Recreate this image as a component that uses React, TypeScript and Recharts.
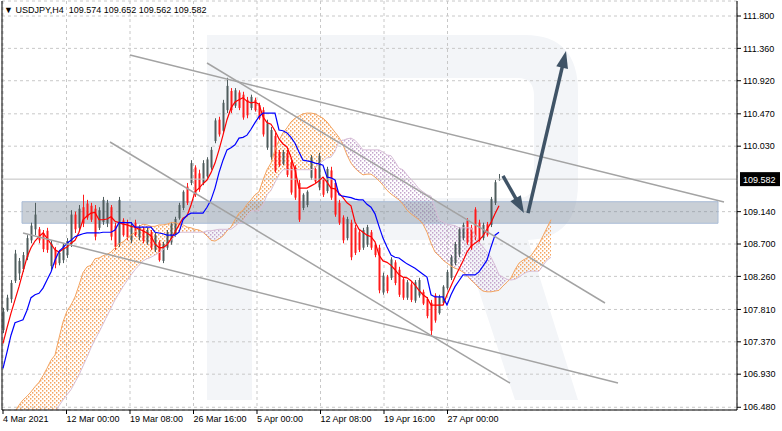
import React from 'react'
import {
  ComposedChart, XAxis, YAxis, CartesianGrid, Bar, Line, Area,
  ReferenceLine, ReferenceArea,
} from 'recharts'

// USDJPY H4 — one slot is two H4 bars (4px at this zoom)
const opens = [107.53,107.80,107.95,108.20,108.30,108.36,108.52,108.75,108.90,108.90,
  108.85,108.88,108.40,108.62,108.44,108.48,108.55,108.70,109.10,108.92,
  109.20,109.25,109.22,109.18,108.92,109.00,108.98,109.20,108.95,108.70,
  109.02,108.99,108.75,108.99,108.79,108.90,108.72,108.86,108.62,108.72,
  108.47,108.65,108.72,108.83,109.05,109.19,109.48,109.53,109.74,109.66,
  109.53,109.62,109.74,110.10,110.39,110.24,110.52,110.78,110.58,110.76,
  110.73,110.66,110.55,110.66,110.59,110.52,110.01,109.88,110.17,109.95,
  109.79,109.94,109.80,109.74,109.53,109.19,109.23,109.60,109.72,109.47,
  109.58,109.42,109.70,109.53,109.26,109.06,108.78,108.99,108.92,108.86,
  108.65,108.69,108.86,108.69,108.65,108.04,108.25,108.24,108.45,108.35,
  108.22,107.97,108.15,107.93,108.00,108.05,107.95,107.90,108.00,107.76,
  107.90,108.10,108.24,108.44,108.56,108.78,109.02,108.92,109.17,108.99,
  108.78,108.97,108.96,109.26,109.574]
const highs = [107.83,108.01,108.21,108.62,108.51,108.59,108.82,108.99,109.26,108.93,
  108.89,108.92,108.75,108.66,108.62,108.71,108.78,109.16,109.14,109.23,
  109.37,109.30,109.26,109.23,109.20,109.34,109.30,109.23,108.99,109.34,
  109.05,109.03,109.00,109.03,108.96,108.93,108.92,108.89,108.85,108.75,
  108.73,108.89,109.00,109.07,109.26,109.43,109.53,109.84,109.77,109.71,
  109.84,109.88,110.02,110.41,110.43,110.66,110.96,110.82,110.82,110.79,
  110.77,110.70,110.73,110.69,110.62,110.56,110.39,110.29,110.21,109.98,
  109.98,109.98,109.84,109.77,109.57,109.39,109.43,109.91,109.75,109.94,
  109.61,109.75,109.75,109.57,109.30,109.09,109.07,109.03,108.96,108.89,
  108.92,108.96,108.89,108.71,108.69,108.31,108.28,108.52,108.48,108.39,
  108.25,108.21,108.18,108.21,108.24,108.08,107.98,107.94,108.03,108.01,
  108.14,108.35,108.55,108.73,108.93,108.99,109.05,108.96,109.20,109.03,
  108.99,109.00,109.34,109.57,109.652]
const lows = [107.49,107.78,107.90,108.17,108.21,108.32,108.48,108.71,108.82,108.71,
  108.59,108.58,108.35,108.37,108.41,108.44,108.51,108.66,108.85,108.89,
  108.93,109.03,109.00,108.75,108.89,108.96,108.93,108.75,108.62,108.66,
  108.80,108.75,108.71,108.80,108.75,108.71,108.69,108.62,108.59,108.46,
  108.44,108.62,108.69,108.80,109.03,109.16,109.23,109.50,109.34,109.41,
  109.50,109.60,109.71,110.07,110.16,110.21,110.48,110.48,110.55,110.52,
  110.39,110.41,110.52,110.50,110.39,110.16,109.98,109.84,109.67,109.75,
  109.77,109.61,109.37,109.30,109.00,109.16,109.20,109.57,109.53,109.43,
  109.34,109.39,109.30,109.07,108.96,108.71,108.75,108.48,108.55,108.59,
  108.62,108.66,108.62,108.52,108.03,108.01,108.03,108.21,108.14,107.98,
  107.94,107.94,107.91,107.90,107.97,107.87,107.69,107.46,107.63,107.74,
  107.87,108.08,108.21,108.41,108.52,108.75,108.69,108.62,108.75,108.71,
  108.75,108.80,108.93,109.23,109.562]
const closes = [107.78,107.97,108.17,108.57,108.47,108.55,108.78,108.95,109.10,108.75,
  108.63,108.62,108.70,108.42,108.58,108.68,108.74,109.10,108.90,109.18,
  108.98,109.06,109.03,108.80,109.16,109.30,109.26,108.80,108.66,109.30,
  108.82,108.79,108.96,108.82,108.93,108.74,108.89,108.65,108.82,108.48,
  108.70,108.86,108.97,109.04,109.23,109.41,109.26,109.80,109.38,109.44,
  109.80,109.85,109.98,110.38,110.19,110.62,110.85,110.52,110.79,110.55,
  110.42,110.45,110.70,110.52,110.41,110.19,110.34,110.25,109.70,109.77,
  109.95,109.64,109.40,109.33,109.03,109.37,109.41,109.88,109.55,109.90,
  109.37,109.72,109.33,109.10,108.99,108.75,109.04,108.52,108.58,108.62,
  108.89,108.93,108.65,108.55,108.07,108.27,108.06,108.49,108.17,108.01,
  107.97,108.18,107.94,108.18,108.21,107.89,107.72,107.52,107.66,107.98,
  108.12,108.32,108.52,108.70,108.90,108.96,108.72,108.65,108.79,108.75,
  108.96,108.82,109.31,109.54,109.582]

const tenkan = [107.35,107.56,107.76,107.94,108.12,108.32,108.52,108.65,108.74,108.80,
  108.85,108.78,108.70,108.62,108.59,108.63,108.66,108.71,108.75,108.86,
  109.03,109.08,109.12,109.13,109.03,109.03,109.04,109.07,109.01,108.99,
  108.97,108.96,108.94,108.93,108.90,108.88,108.85,108.81,108.70,108.65,
  108.65,108.69,108.77,108.86,108.96,109.05,109.08,109.23,109.41,109.46,
  109.52,109.57,109.67,109.80,109.98,110.18,110.39,110.55,110.63,110.66,
  110.69,110.64,110.62,110.63,110.60,110.43,110.35,110.33,110.24,110.13,
  110.06,110.02,109.88,109.71,109.46,109.46,109.46,109.49,109.52,109.56,
  109.61,109.54,109.46,109.45,109.39,109.33,109.26,109.22,109.00,108.90,
  108.86,108.82,108.80,108.73,108.55,108.47,108.45,108.41,108.35,108.28,
  108.25,108.24,108.20,108.14,108.07,108.01,107.97,107.87,107.87,107.87,
  107.87,108.01,108.13,108.25,108.36,108.47,108.59,108.67,108.71,108.75,
  108.81,108.90,108.99,109.11,109.22]
const kijun = [107.01,107.23,107.46,107.63,107.65,107.67,107.80,107.97,108.01,108.03,
  108.10,108.21,108.32,108.48,108.60,108.65,108.71,108.75,108.80,108.82,
  108.84,108.85,108.85,108.85,108.85,108.86,108.86,108.86,108.89,108.99,
  108.99,108.99,108.99,108.93,108.93,108.93,108.93,108.93,108.86,108.85,
  108.84,108.82,108.82,108.82,108.86,109.03,109.09,109.12,109.12,109.12,
  109.12,109.20,109.30,109.46,109.67,109.84,109.98,110.01,110.05,110.14,
  110.15,110.18,110.26,110.35,110.43,110.48,110.48,110.48,110.48,110.25,
  110.24,110.21,110.15,110.07,109.95,109.84,109.83,109.82,109.80,109.79,
  109.77,109.61,109.60,109.57,109.37,109.35,109.34,109.33,109.31,109.30,
  109.30,109.24,109.20,109.11,108.94,108.78,108.66,108.55,108.52,108.51,
  108.47,108.43,108.40,108.37,108.33,108.29,108.25,108.01,107.98,107.98,
  107.98,107.87,108.01,108.12,108.20,108.28,108.28,108.28,108.28,108.32,
  108.40,108.48,108.66,108.82,108.86]

// senkou spans, shifted 13 slots past the last bar
const spanA = [106.04,106.17,106.31,106.42,106.51,106.58,106.63,106.69,106.76,106.82,
  106.91,107.01,107.12,107.19,107.42,107.64,107.79,107.87,107.98,108.14,
  108.31,108.39,108.41,108.50,108.51,108.54,108.56,108.59,108.65,108.70,
  108.73,108.78,108.82,108.86,108.94,108.97,108.96,108.94,108.94,108.96,
  108.96,108.97,108.99,108.99,108.97,108.96,108.93,108.92,108.90,108.89,
  108.86,108.81,108.75,108.74,108.77,108.81,108.88,108.93,109.03,109.12,
  109.16,109.24,109.30,109.37,109.41,109.57,109.71,109.80,109.98,110.11,
  110.21,110.28,110.36,110.41,110.44,110.47,110.48,110.48,110.47,110.44,
  110.41,110.36,110.29,110.22,110.15,110.05,109.91,109.80,109.73,109.68,
  109.64,109.65,109.65,109.61,109.56,109.50,109.43,109.38,109.34,109.30,
  109.24,109.16,109.11,109.07,109.03,108.97,108.86,108.71,108.59,108.54,
  108.48,108.44,108.40,108.37,108.35,108.32,108.27,108.21,108.16,108.10,
  108.06,108.05,108.05,108.06,108.07,108.13,108.18,108.24,108.35,108.44,
  108.48,108.51,108.54,108.62,108.70,108.81,108.92,109.03]
const spanB = [105.63,105.70,105.76,105.83,105.90,105.97,106.04,106.09,106.14,106.18,
  106.23,106.27,106.32,106.39,106.50,106.58,106.65,106.72,106.82,106.92,
  107.04,107.16,107.29,107.40,107.50,107.61,107.72,107.83,107.94,108.03,
  108.12,108.20,108.28,108.35,108.41,108.47,108.50,108.52,108.55,108.58,
  108.62,108.69,108.75,108.81,108.86,108.86,108.86,108.86,108.86,108.86,
  108.86,108.88,108.88,108.89,108.90,108.90,108.90,108.90,108.94,108.99,
  109.00,109.09,109.15,109.15,109.15,109.23,109.37,109.43,109.54,109.64,
  109.71,109.71,109.71,109.71,109.71,109.71,109.71,109.71,109.73,109.79,
  109.83,109.87,109.88,109.96,110.10,110.11,110.13,110.14,110.11,110.05,
  109.98,109.98,109.98,109.98,109.98,109.95,109.91,109.90,109.82,109.73,
  109.71,109.64,109.58,109.52,109.45,109.41,109.37,109.35,109.19,109.03,
  109.00,108.97,108.96,108.95,108.92,108.92,108.92,108.92,108.82,108.73,
  108.66,108.59,108.52,108.41,108.28,108.25,108.22,108.21,108.22,108.25,
  108.29,108.32,108.33,108.33,108.33,108.41,108.48,108.52]

const xTickLabels = ['4 Mar 2021', '12 Mar 00:00', '19 Mar 08:00', '26 Mar 16:00',
  '5 Apr 00:00', '12 Apr 08:00', '19 Apr 16:00', '27 Apr 00:00']
const yTickLabels = ['111.800', '111.360', '110.920', '110.470', '110.030', '109.140',
  '108.700', '108.260', '107.810', '107.370', '106.930', '106.480']
const lastPrice = 109.582
const header = 'USDJPY,H4  109.574 109.652 109.562 109.582'

// drawn objects, in [slot, price] pairs
const zone = { x1: 4.75, x2: 178.75, y1: 108.982, y2: 109.275 }
const trendLines = [
  [31.75, 111.27, 180.25, 109.271],
  [51, 111.161, 150.5, 107.898],
  [26.75, 110.087, 126.75, 106.81],
  [5, 108.85, 153.75, 106.81],
]
const arrows = [
  [125, 109.625, 130.25, 109.122],
  [131.25, 109.12, 140.75, 111.324],
]

const TICK_STEP = 15.875
const FONT = '"Liberation Sans", Arial, sans-serif'
const BULL = '#4f5d5d'
const BEAR = '#ff1a1a'
const ARROW = '#3f5366'

const data = spanA.map((a, i) => {
  const b = spanB[i]
  const bar = i < closes.length
  return {
    i,
    o: bar ? opens[i] : undefined,
    h: bar ? highs[i] : undefined,
    l: bar ? lows[i] : undefined,
    c: bar ? closes[i] : undefined,
    range: bar ? [lows[i], highs[i]] : undefined,
    tenkan: bar ? tenkan[i] : undefined,
    kijun: bar ? kijun[i] : undefined,
    spanA: a,
    spanB: b,
    kumoUp: [b, Math.max(a, b)],
    kumoDn: [a, Math.max(a, b)],
  }
})

const Candle = (props: any) => {
  const { x, y, width, height, payload } = props
  if (!payload || payload.h == null) return null
  const { o, h, l, c } = payload
  const cx = Math.round(x + width / 2) + 0.5
  const span = h - l || 1
  const py = (p: number) => y + ((h - p) / span) * height
  const color = c >= o ? BULL : BEAR
  const top = py(Math.max(o, c))
  const bot = py(Math.min(o, c))
  return (
    <g>
      <line x1={cx} x2={cx} y1={y} y2={y + height} stroke={color} strokeWidth={1} />
      <rect x={cx - 1} y={top} width={2} height={Math.max(1, bot - top)} fill={color} />
    </g>
  )
}

const ArrowShape = (p: any) => {
  const { x1, y1, x2, y2 } = p
  const dx = x2 - x1
  const dy = y2 - y1
  const len = Math.hypot(dx, dy) || 1
  const ux = dx / len
  const uy = dy / len
  const head = 17
  const half = 6
  const bx = x2 - ux * head
  const by = y2 - uy * head
  return (
    <g>
      <line x1={x1} y1={y1} x2={bx + ux * 2} y2={by + uy * 2} stroke={ARROW} strokeWidth={3.5} />
      <polygon
        points={`${x2},${y2} ${bx - uy * half},${by + ux * half} ${bx + uy * half},${by - ux * half}`}
        fill={ARROW}
      />
    </g>
  )
}

const PriceLabel = (p: any) => {
  const vb = p.viewBox || {}
  const x = vb.x + vb.width + 3
  const y = vb.y
  return (
    <g>
      <rect x={x} y={y - 7} width={40} height={14} fill="#000" />
      <text x={x + 3} y={y + 3.5} fill="#fff" fontSize={9} fontFamily={FONT}>
        {lastPrice.toFixed(3)}
      </text>
    </g>
  )
}

const XTick = (p: any) => {
  const { x, y, index } = p
  return (
    <text x={x} y={y} dy="0.71em" textAnchor="start" fill="#000" fontSize={9} fontFamily={FONT}>
      {xTickLabels[index]}
    </text>
  )
}

export default function App() {
  const xTicks = xTickLabels.map((_, k) => k * TICK_STEP)
  const yTicks = yTickLabels.map(Number)
  return (
    <div style={{ position: 'fixed', left: 0, top: 0, width: 782, height: 431, background: '#fff' }}>
      {/* faint broker watermark behind the chart */}
      <svg width={782} height={431} style={{ position: 'absolute', left: 0, top: 0 }}>
        <path
          fillRule="evenodd"
          fill="#f3f5f8"
          d="M207,35 H525 Q578,35 578,92 V183 Q578,238 528,240 L578,400 H515 L462,240 H252 V400 H207 Z M252,78 H518 Q534,78 534,96 V180 Q534,198 518,198 H252 Z"
        />
      </svg>
      <div style={{ position: 'absolute', left: 0, top: 0 }}>
        <ComposedChart width={782} height={431} data={data} margin={{ top: 1, right: 0, bottom: 0, left: 2 }}>
          <defs>
            <pattern id="kumoUp" width="4" height="4" patternUnits="userSpaceOnUse">
              <rect x="0" y="0" width="1.4" height="1.6" fill="#f4a460" />
              <rect x="2" y="2" width="1.4" height="1.6" fill="#f4a460" />
            </pattern>
            <pattern id="kumoDn" width="4" height="4" patternUnits="userSpaceOnUse">
              <rect x="0" y="0" width="1.4" height="1.6" fill="#c4a4cc" />
              <rect x="2" y="2" width="1.4" height="1.6" fill="#c4a4cc" />
            </pattern>
          </defs>
          <CartesianGrid stroke="#c8c8c8" strokeDasharray="3 3" />
          <XAxis
            dataKey="i" type="number" domain={[-0.25, 183.5]} allowDataOverflow
            ticks={xTicks} interval={0} height={21} tickSize={4}
            axisLine={{ stroke: '#000' }} tickLine={{ stroke: '#000' }} tick={<XTick />}
          />
          <YAxis
            orientation="right" type="number" domain={[106.443, 112.004]} allowDataOverflow
            ticks={yTicks} interval={0} width={45} tickSize={4}
            tickFormatter={(v: number) => v.toFixed(3)}
            axisLine={{ stroke: '#000' }} tickLine={{ stroke: '#000' }}
            tick={{ fill: '#000', fontSize: 9, fontFamily: FONT }}
          />
          <ReferenceLine x={-0.25} stroke="#000" />
          <ReferenceLine y={lastPrice} stroke="#c0c0c0" label={<PriceLabel />} />
          <Area dataKey="kumoUp" stroke="none" fill="url(#kumoUp)" fillOpacity={1} isAnimationActive={false} />
          <Area dataKey="kumoDn" stroke="none" fill="url(#kumoDn)" fillOpacity={1} isAnimationActive={false} />
          <Line dataKey="spanA" stroke="#f4a460" strokeWidth={1} dot={false} isAnimationActive={false} />
          <Line dataKey="spanB" stroke="#d8bfd8" strokeWidth={1} dot={false} isAnimationActive={false} />
          <Bar dataKey="range" barSize={3} shape={<Candle />} isAnimationActive={false} />
          <Line dataKey="tenkan" stroke="#ff0000" strokeWidth={1.2} dot={false} isAnimationActive={false} />
          <Line dataKey="kijun" stroke="#0000ff" strokeWidth={1.2} dot={false} isAnimationActive={false} />
          <ReferenceArea
            x1={zone.x1} x2={zone.x2} y1={zone.y1} y2={zone.y2}
            fill="#778899" fillOpacity={0.4} stroke="#a9bcd6" strokeOpacity={1}
          />
          {trendLines.map(([ax, ay, bx, by], k) => (
            <ReferenceLine key={'t' + k} segment={[{ x: ax, y: ay }, { x: bx, y: by }]} stroke="#a3a3a3" strokeWidth={1.5} />
          ))}
          {arrows.map(([ax, ay, bx, by], k) => (
            <ReferenceLine key={'a' + k} segment={[{ x: ax, y: ay }, { x: bx, y: by }]} shape={ArrowShape} />
          ))}
        </ComposedChart>
      </div>
      <div style={{ position: 'absolute', left: 4, top: 5, fontSize: 9, lineHeight: '11px', fontFamily: FONT, color: '#000', whiteSpace: 'pre' }}>
        {'\u25BC ' + header}
      </div>
    </div>
  )
}
